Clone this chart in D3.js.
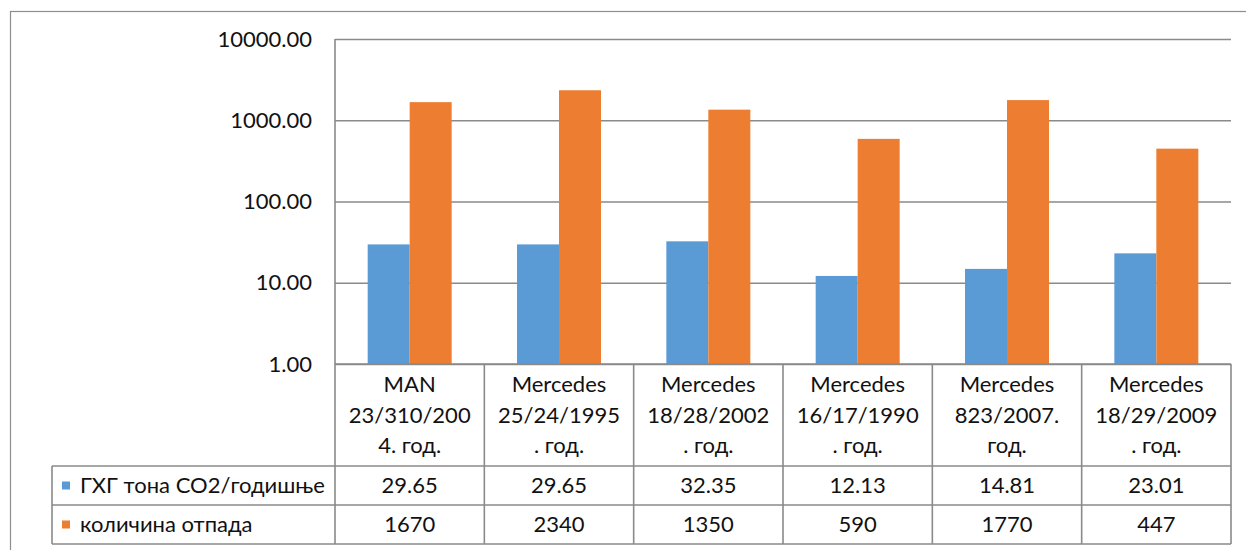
<!DOCTYPE html>
<html><head><meta charset="utf-8">
<script src="https://cdn.jsdelivr.net/npm/d3@7"></script>
<style>body{margin:0;background:#fff;}svg{display:block;}</style>
</head><body>
<svg id="c" width="1246" height="550"></svg>
<script>
const categories = [
  ["MAN","23/310/200","4. год."],
  ["Mercedes","25/24/1995",". год."],
  ["Mercedes","18/28/2002",". год."],
  ["Mercedes","16/17/1990",". год."],
  ["Mercedes","823/2007.","год."],
  ["Mercedes","18/29/2009",". год."]
];
const seriesNames = ["ГХГ тона CO2/годишње","количина отпада"];
const ghg = [29.65, 29.65, 32.35, 12.13, 14.81, 23.01];
const waste = [1670, 2340, 1350, 590, 1770, 447];
const ghgLabels = ["29.65","29.65","32.35","12.13","14.81","23.01"];
const wasteLabels = ["1670","2340","1350","590","1770","447"];
const yTicks = [1, 10, 100, 1000, 10000];
const colors = ["#5B9BD5","#ED7D31"];

const svg = d3.select("#c");
const font = "Lato, 'Open Sans', sans-serif";
const fs = 22;
const grid = "#8a8a8a";

const X0 = 335, X1 = 1231, YT = 39, YB = 364;
const rowH = [466, 505, 544];
const tableLeft = 52;

const idx = categories.map((d,i)=>i);
const x = d3.scaleBand().domain(idx).range([X0, X1]).padding(0);
const bw = x.bandwidth();
const barW = 42;
const xs = d3.scaleBand().domain([0,1]).range([0, bw]).paddingInner(0).paddingOuter((bw - 2*barW)/(2*barW));
const y = d3.scaleLog().domain([1, 10000]).range([YB, YT]);

// outer border
svg.append("rect").attr("x",10.5).attr("y",11.5).attr("width",1300).attr("height",600)
  .attr("fill","none").attr("stroke","#8e8e8e").attr("stroke-width",1.2);

// gridlines
const yAxis = d3.axisLeft(y).tickValues(yTicks).tickSize(-(X1-X0)).tickFormat(d3.format(".2f"));
const ga = svg.append("g").attr("transform",`translate(${X0},0)`).call(yAxis);
ga.select(".domain").remove();
ga.selectAll(".tick line").attr("stroke",grid).attr("stroke-width",1.6);
ga.selectAll(".tick text").attr("x",-23).attr("font-family",font).attr("font-size",fs).attr("fill","#111");

// bars
const seriesVals = [ghg, waste];
seriesVals.forEach((vals, s) => {
  svg.append("g").selectAll("rect").data(vals).join("rect")
    .attr("x",(d,i)=>x(i)+xs(s))
    .attr("width",xs.bandwidth())
    .attr("y",d=>y(d))
    .attr("height",d=>YB - y(d))
    .attr("fill",colors[s]);
});

// table lines
const L = svg.append("g").attr("stroke",grid).attr("stroke-width",1.6).attr("fill","none");
L.append("line").attr("x1",X0).attr("x2",X0).attr("y1",YT).attr("y2",rowH[2]);
L.append("line").attr("x1",X0).attr("x2",X1).attr("y1",YB).attr("y2",YB);
rowH.forEach(h=>L.append("line").attr("x1",tableLeft).attr("x2",X1).attr("y1",h).attr("y2",h));
L.append("line").attr("x1",tableLeft).attr("x2",tableLeft).attr("y1",rowH[0]).attr("y2",rowH[2]);
idx.forEach(i=>{
  const xx = x(i)+bw;
  L.append("line").attr("x1",xx).attr("x2",xx).attr("y1",YB).attr("y2",rowH[2]);
});

// category labels
const lineY = [392, 423, 453];
categories.forEach((lines,i)=>{
  lines.forEach((t,j)=>{
    svg.append("text").attr("x",x(i)+bw/2).attr("y",lineY[j]).attr("text-anchor","middle")
      .attr("font-family",font).attr("font-size",fs).attr("fill","#111").text(t);
  });
});

// legend rows
const rowMid = [(rowH[0]+rowH[1])/2, (rowH[1]+rowH[2])/2];
seriesNames.forEach((n,s)=>{
  svg.append("rect").attr("x",62).attr("y",rowMid[s]-4).attr("width",8).attr("height",8).attr("fill",colors[s]);
  svg.append("text").attr("x",80).attr("y",rowMid[s]).attr("dy","0.35em")
    .attr("font-family",font).attr("font-size",fs).attr("fill","#111").text(n);
});
[ghgLabels, wasteLabels].forEach((labs,s)=>{
  labs.forEach((t,i)=>{
    svg.append("text").attr("x",x(i)+bw/2).attr("y",rowMid[s]).attr("dy","0.35em").attr("text-anchor","middle")
      .attr("font-family",font).attr("font-size",fs).attr("fill","#111").text(t);
  });
});
</script>
</body></html>
